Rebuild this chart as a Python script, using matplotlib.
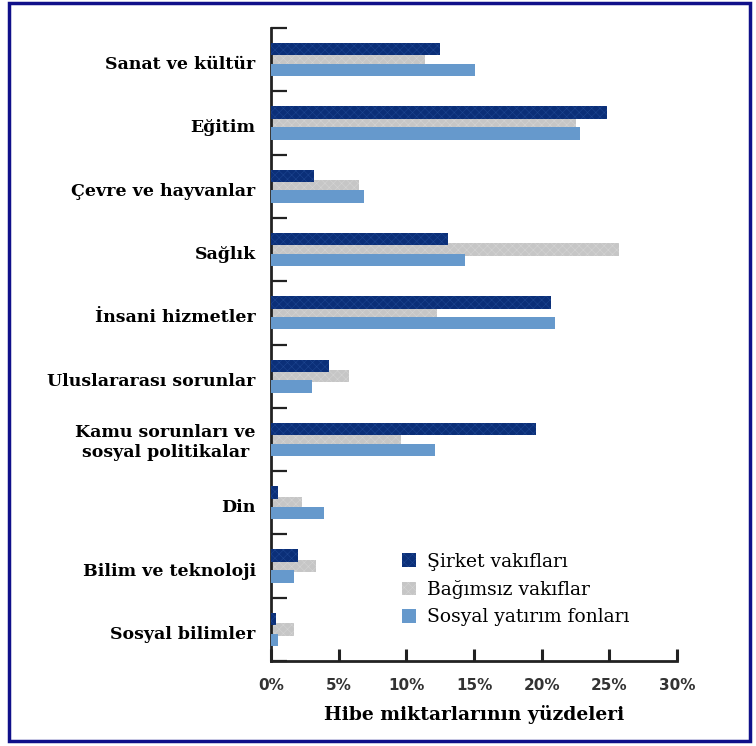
"""
Grant shares by field, three foundation types
"""

import matplotlib
matplotlib.use("Agg")
import matplotlib.pyplot as plt
import matplotlib.transforms as mtransforms
import numpy as np
from matplotlib.patches import Rectangle

categories = [
    "Sanat ve kültür",
    "Eğitim",
    "Çevre ve hayvanlar",
    "Sağlık",
    "İnsani hizmetler",
    "Uluslararası sorunlar",
    "Kamu sorunları ve\nsosyal politikalar",
    "Din",
    "Bilim ve teknoloji",
    "Sosyal bilimler",
]
sirket = [12.5, 24.8, 3.2, 13.1, 20.7, 4.3, 19.6, 0.5, 2.0, 0.4]
bagimsiz = [11.4, 22.5, 6.5, 25.7, 12.3, 5.8, 9.6, 2.3, 3.3, 1.7]
sosyal = [15.1, 22.8, 6.9, 14.3, 21.0, 3.0, 12.1, 3.9, 1.7, 0.5]
series_names = ["Şirket vakıfları", "Bağımsız vakıflar", "Sosyal yatırım fonları"]
xticks = [0, 5, 10, 15, 20, 25, 30]

dark = "#0b2f78"
grey = "#c6c6c6"
light = "#6699cc"

fig = plt.figure(figsize=(7.56, 7.46), dpi=100)
ax = fig.add_axes([271 / 756, 1 - 661 / 746, 406 / 756, 633 / 746])

y = np.arange(len(categories)) + 0.5
h = 0.195
off = 0.164

plt.rcParams['hatch.linewidth'] = 0.4
b_grey = ax.barh(y, bagimsiz, height=h, color=grey, edgecolor="#d4d4d4",
                 hatch="xxxx", linewidth=0, zorder=2)
b_dark = ax.barh(y - off, sirket, height=h, color=dark, edgecolor="#1d4590",
                 hatch="xxxx", linewidth=0, zorder=3)
b_light = ax.barh(y + off, sosyal, height=h, color=light, linewidth=0, zorder=3)

ax.set_xlim(0, 30)
ax.set_ylim(10, 0)

for s in ["top", "right"]:
    ax.spines[s].set_visible(False)
ax.spines["left"].set_linewidth(2)
ax.spines["bottom"].set_linewidth(2)
ax.spines["left"].set_color("#222222")
ax.spines["bottom"].set_color("#222222")

# category labels on major ticks, separators as minor ticks
ax.set_yticks(y)
ax.set_yticklabels(categories, family="DejaVu Serif", fontweight="bold",
                   fontsize=12.5, multialignment="center")
ax.tick_params(axis="y", which="major", length=0, pad=11)
shift = mtransforms.ScaledTranslation(0, -3 / 100, fig.dpi_scale_trans)
for lab in ax.get_yticklabels():
    if "\n" not in lab.get_text():
        lab.set_transform(lab.get_transform() + shift)
ax.set_yticks(np.arange(0, 11), minor=True)
ax.tick_params(axis="y", which="minor", direction="in", length=11.5,
               width=1.6, color="#222222")

ax.set_xticks(xticks)
ax.set_xticklabels([f"{t}%" for t in xticks], family="DejaVu Sans",
                   fontweight="bold", fontsize=11, color="#333333")
ax.tick_params(axis="x", direction="in", length=9, width=2.2,
               color="#222222", pad=12)

ax.set_xlabel("Hibe miktarlarının yüzdeleri", family="DejaVu Serif",
              fontweight="bold", fontsize=13.5, labelpad=9)

ax.legend([b_dark, b_grey, b_light], series_names, loc="upper left",
          bbox_to_anchor=(0.28, 0.198), frameon=False,
          prop={"family": "DejaVu Serif", "size": 13.5},
          handlelength=0.75, handleheight=0.75, handletextpad=0.6,
          labelspacing=0.5)

# outer frame
fig.patches.append(Rectangle((9 / 756, 1 - 741 / 746), 741 / 756, 738 / 746,
                             transform=fig.transFigure, fill=False,
                             edgecolor="#10108a", linewidth=2.5))

fig.savefig("out.png", dpi=100)
